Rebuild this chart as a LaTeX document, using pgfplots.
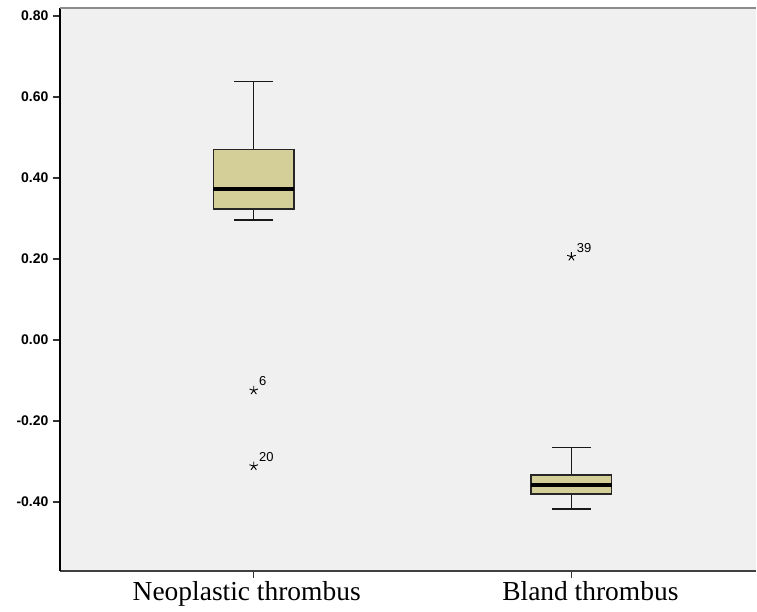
\documentclass[border=0pt]{standalone}
\usepackage{fontspec}
\setmainfont{Liberation Serif}
\newfontfamily\arial{Liberation Sans}
\usepackage{pgfplots}
\pgfplotsset{compat=1.18}
\usepgfplotslibrary{statistics}
\definecolor{boxfill}{RGB}{212,207,153}
\definecolor{bg}{RGB}{240,240,240}
\begin{document}
\begin{tikzpicture}
\begin{axis}[
  scale only axis,
  width=697pt, height=564pt,
  xmin=0.39, xmax=2.58,
  ymin=-0.57, ymax=0.82,
  axis background/.style={fill=bg, draw=none},
  axis x line*=bottom, axis y line*=left,
  x axis line style={-, line width=1.6pt, color=black!75},
  y axis line style={-, line width=1.6pt, color=black},
  xtick={1,2},
  xticklabels={{Neoplastic thrombus\hspace*{14pt}},{\hspace*{38pt}Bland thrombus}},
  xticklabel style={font=\fontsize{27.5}{30}\selectfont, yshift=0pt},
  ytick={-0.4,-0.2,0,0.2,0.4,0.6,0.8},
  yticklabels={-0.40,-0.20,0.00,0.20,0.40,0.60,0.80},
  yticklabel style={font=\arial\bfseries\fontsize{14}{16}\selectfont, xshift=-1pt},
  tick align=outside,
  major tick length=7pt,
  tick style={line width=1.4pt, color=black!80},
  clip=false,
  boxplot/draw direction=y,
  boxplot/every median/.style={line width=3.6pt, black},
  boxplot/every whisker/.style={line width=1.5pt, black!90, solid},
  boxplot/every box/.style={line width=1.4pt, draw=black!85, fill=boxfill, solid},
]
\addplot+[boxplot prepared={lower whisker=0.297, lower quartile=0.324, median=0.373, upper quartile=0.471, upper whisker=0.638, draw position=1, box extend=0.254, whisker extend=0.123}, black, solid, mark=none] coordinates {};
\addplot+[boxplot prepared={lower whisker=-0.417, lower quartile=-0.380, median=-0.357, upper quartile=-0.333, upper whisker=-0.265, draw position=2, box extend=0.254, whisker extend=0.123}, black, solid, mark=none] coordinates {};
\addplot[only marks, mark=star, mark size=4.5pt, black, line width=0.9pt,
  nodes near coords, point meta=explicit symbolic,
  every node near coord/.style={anchor=south west, font=\arial\fontsize{13}{14}\selectfont, inner sep=0pt, xshift=5pt, yshift=4pt}]
  coordinates {(1,-0.124)[6] (1,-0.311)[20] (2,0.206)[39]};
\draw[line width=2.6pt, color=black!45] (rel axis cs:0,1) -- (rel axis cs:1,1);
\coordinate (sw) at (rel axis cs:0,0);
\coordinate (ne) at (rel axis cs:1,1);
\end{axis}
\path (sw) ++(-60pt,-41pt) coordinate (a);
\path (ne) ++(-1pt,8pt) coordinate (b);
\path[use as bounding box] (a) rectangle (b);
\end{tikzpicture}
\end{document}
